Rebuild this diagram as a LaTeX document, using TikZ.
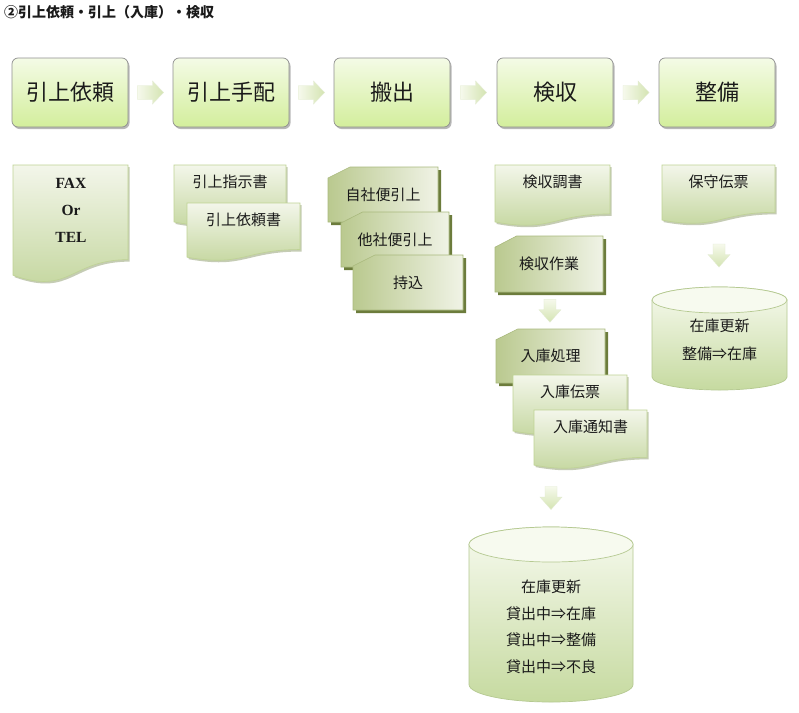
\documentclass[tikz,border=0pt]{standalone}
\usepackage{fontspec}
\setmainfont{Liberation Serif}
\newfontfamily\jp{Noto Sans CJK JP}
\usetikzlibrary{calc,shadows}
\definecolor{boxtop}{HTML}{F4FBE6}
\definecolor{boxbot}{HTML}{D3EE9C}
\definecolor{boxline}{HTML}{8F8F8F}
\definecolor{txt}{HTML}{1A1A1A}
\definecolor{doctop}{HTML}{F3F6EA}
\definecolor{docbot}{HTML}{C2D59B}
\definecolor{docline}{HTML}{BFD394}
\definecolor{docshad}{HTML}{7F8F5A}
\definecolor{cardl}{HTML}{BAC98F}
\definecolor{cardr}{HTML}{F0F3E6}
\definecolor{cardline}{HTML}{A9B97D}
\definecolor{cardshad}{HTML}{6C7C3C}
\definecolor{arrl}{HTML}{F6F9EC}
\definecolor{arrr}{HTML}{D4E4B2}
\definecolor{arrline}{HTML}{E2EBD0}
\definecolor{cyltop}{HTML}{F7FAEF}
\definecolor{cylbot}{HTML}{C6DAA0}
\definecolor{cylline}{HTML}{B5C991}
\tikzset{
  procbox/.style={rectangle, rounded corners=6pt, minimum width=116pt, minimum height=69pt,
    draw=boxline, line width=0.7pt, top color=boxtop, bottom color=boxbot, text=txt,
    font=\jp\fontsize{22}{26}\selectfont,
    drop shadow={shadow xshift=1.5pt, shadow yshift=-2pt, fill=black, opacity=.28}},
  zone/.style={rectangle, inner sep=0pt, outer sep=0pt, draw=none},
  lbl/.style={inner sep=0pt, text=txt, font=\jp\fontsize{15}{17}\selectfont},
  docfill/.style={draw=docline, line width=0.6pt, top color=doctop, bottom color=docbot},
  docshadow/.style={fill=docshad, opacity=.45},
  cardfill/.style={draw=cardline, line width=0.6pt, left color=cardl, right color=cardr},
  cardshadow/.style={fill=cardshad},
  arrowfill/.style={draw=arrline, line width=0.4pt},
  cylfill/.style={draw=cylline, line width=0.7pt, top color=cyltop, bottom color=cylbot},
  cylcap/.style={draw=cylline, line width=0.7pt, fill=cyltop},
  rarrow/.pic={\path[arrowfill, left color=arrl, right color=arrr]
    (-13,-7) -- (2,-7) -- (2,-11.5) -- (13,0) -- (2,11.5) -- (2,7) -- (-13,7) -- cycle;},
  darrow/.pic={\path[arrowfill, top color=arrl, bottom color=arrr]
    (-6,-11.5) -- (6,-11.5) -- (6,-1) -- (11,-1) -- (0,11.5) -- (-11,-1) -- (-6,-1) -- cycle;},
}
% document shape: #1 name, #2 x0, #3 y0, #4 w, #5 h, #6 text
\newcommand\DocShape[6]{%
  \fill[docshadow] (#2+1.5,#3+2) -- (#2+#4+1.5,#3+2) -- (#2+#4+1.5,#3+0.802*#5+2)
    .. controls (#2+0.5*#4+1.5,#3+0.802*#5+2) and (#2+0.5*#4+1.5,#3+1.107*#5+2) .. (#2+1.5,#3+0.934*#5+2) -- cycle;
  \path[docfill] (#2,#3) -- (#2+#4,#3) -- (#2+#4,#3+0.802*#5)
    .. controls (#2+0.5*#4,#3+0.802*#5) and (#2+0.5*#4,#3+1.107*#5) .. (#2,#3+0.934*#5) -- cycle;
  \node[zone, minimum width=#4, minimum height=#5, anchor=north west] (#1) at (#2,#3) {};
  \node[lbl] (#1-t) at ($(#1.north)+(0,17)$) {#6};
}
% card shape: #1 name, #2 x0, #3 y0, #4 w, #5 h, #6 text
\newcommand\CardShape[6]{%
  \fill[cardshadow] (#2+3,#3+0.2*#5+3) -- (#2+0.2*#4+3,#3+3) -- (#2+#4+3,#3+3) -- (#2+#4+3,#3+#5+3) -- (#2+3,#3+#5+3) -- cycle;
  \path[cardfill] (#2,#3+0.2*#5) -- (#2+0.2*#4,#3) -- (#2+#4,#3) -- (#2+#4,#3+#5) -- (#2,#3+#5) -- cycle;
  \node[lbl, minimum width=#4, minimum height=#5, anchor=north west] (#1) at (#2,#3) {#6};
}
\begin{document}
\begin{tikzpicture}[x=1pt,y=-1pt]
\useasboundingbox (0,0) rectangle (799,712);
\fill[white] (0,0) rectangle (799,712);

% title
\node[anchor=west, inner sep=0pt, text=txt, font=\jp\bfseries\fontsize{14}{16}\selectfont] (title) at (4,12) {②引上依頼・引上（入庫）・検収};

% process boxes
\node[procbox] (p1) at (70,92.5) {引上依頼};
\node[procbox] (p2) at (231,92.5) {引上手配};
\node[procbox] (p3) at (392,92.5) {搬出};
\node[procbox] (p4) at (555,92.5) {検収};
\node[procbox] (p5) at (717,92.5) {整備};

\pic at ($(p1.east)!0.5!(p2.west)$) {rarrow};
\pic at ($(p2.east)!0.5!(p3.west)$) {rarrow};
\pic at ($(p3.east)!0.5!(p4.west)$) {rarrow};
\pic at ($(p4.east)!0.5!(p5.west)$) {rarrow};

% column 1
\DocShape{fax}{13}{165}{115}{118}{}
\node[align=center, inner sep=0pt, text=txt, font=\bfseries\fontsize{15.5}{27}\selectfont] (faxt) at (71,210) {FAX\\Or\\TEL};

% column 2
\DocShape{d21}{174}{165}{112}{61}{引上指示書}
\DocShape{d22}{187}{203}{113}{58}{引上依頼書}

% column 3
\CardShape{c31}{328}{167}{110}{55}{自社便引上}
\CardShape{c32}{341}{212}{108}{55}{他社便引上}
\CardShape{c33}{353}{255}{110}{55}{持込}

% column 4
\DocShape{d41}{495}{165}{115}{61}{検収調書}
\CardShape{c41}{495}{236}{108}{56}{検収作業}
\CardShape{c42}{496}{329}{109}{54}{入庫処理}
\DocShape{d42}{513}{375}{114}{60}{入庫伝票}
\DocShape{d43}{534}{410}{113}{59}{入庫通知書}

\pic at ($(c41.south)!0.5!(c42.north)$) {darrow};

% big cylinder
\node[zone, minimum width=164, minimum height=175, anchor=north west] (db1) at (469,527) {};
\path[cylfill] (469,544.5) -- (469,684.5) arc[start angle=180, end angle=360, x radius=82pt, y radius=17.5pt]
  -- (633,544.5) arc[start angle=0, end angle=180, x radius=82pt, y radius=17.5pt] -- cycle;
\path[cylcap] (551,544.5) ellipse [x radius=82pt, y radius=17.5pt];
\node[lbl] (db1a) at (551,587) {在庫更新};
\node[lbl] (db1b) at (551,613.5) {貸出中⇒在庫};
\node[lbl] (db1c) at (551,640) {貸出中⇒整備};
\node[lbl] (db1d) at (551,667) {貸出中⇒不良};

\pic at ($(db1.north)!0.5!(db1.north|-d43.south)$) {darrow};

% column 5
\DocShape{d51}{662}{165}{113}{59}{保守伝票}
\node[zone, minimum width=135, minimum height=103, anchor=north west] (db2) at (652,287) {};
\path[cylfill] (652,300) -- (652,377) arc[start angle=180, end angle=360, x radius=67.5pt, y radius=13pt]
  -- (787,300) arc[start angle=0, end angle=180, x radius=67.5pt, y radius=13pt] -- cycle;
\path[cylcap] (719.5,300) ellipse [x radius=67.5pt, y radius=13pt];
\node[lbl] (db2a) at (719.5,326) {在庫更新};
\node[lbl] (db2b) at (719.5,354) {整備⇒在庫};

\pic at ($(d51.south)!0.5!(db2.north)$) {darrow};
\end{tikzpicture}
\end{document}
